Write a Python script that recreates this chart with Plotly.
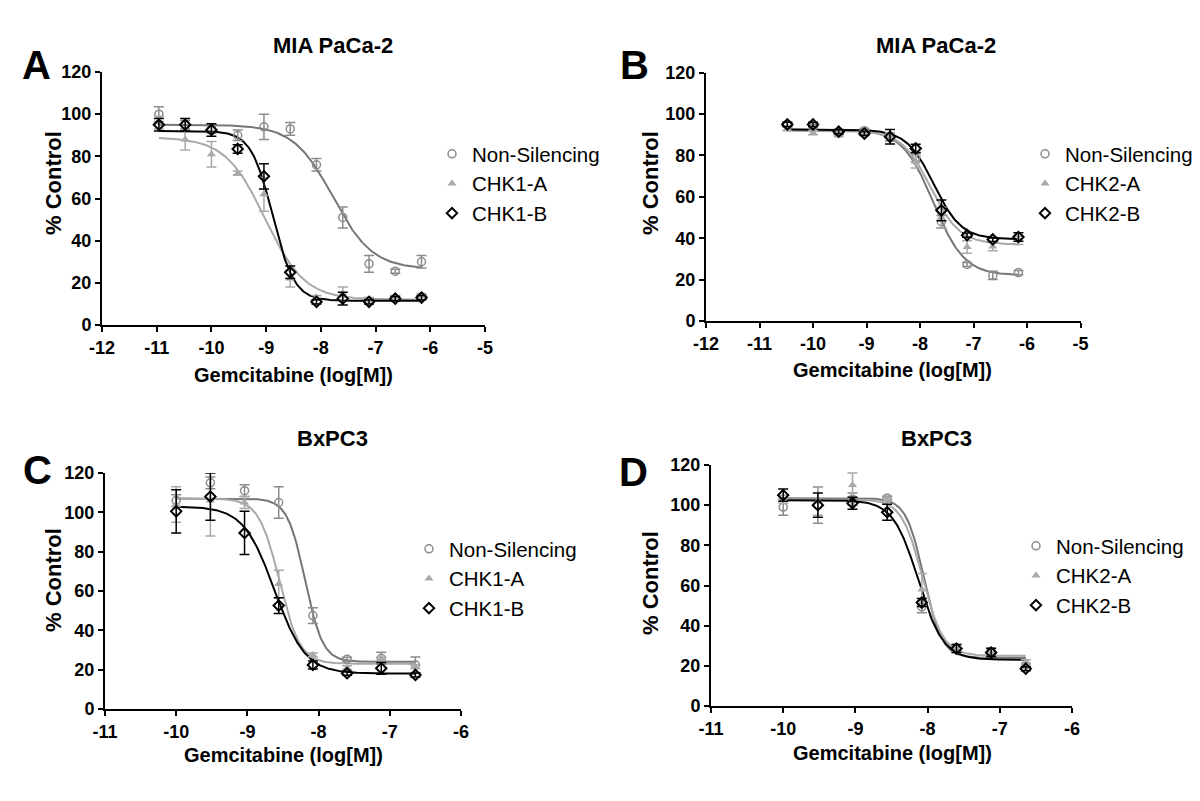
import numpy as np
import plotly.graph_objects as go

# ---------------- data ----------------
series_names_1 = ["Non-Silencing", "CHK1-A", "CHK1-B"]
series_names_2 = ["Non-Silencing", "CHK2-A", "CHK2-B"]

# tick values / labels
x_ticks_top = [-12, -11, -10, -9, -8, -7, -6, -5]
x_ticks_bottom = [-11, -10, -9, -8, -7, -6]
y_ticks = [0, 20, 40, 60, 80, 100, 120]

# Panel A: MIA PaCa-2, CHK1
A_x = [-10.96, -10.48, -10.0, -9.52, -9.04, -8.56, -8.08, -7.6, -7.12, -6.64, -6.16]
A_ns = [100, 95, 93, 90, 94, 93, 76, 51, 29, 25.5, 30]
A_ns_err = [3.5, 2, 2, 2.5, 6, 3, 3, 5, 4, 1, 3]
A_a = [96, 88, 81, 72, 62, 22, 13, 15, 12, 13, 14]
A_a_err = [3, 5, 6, 1, 8, 4, 1, 3, 1, 1, 1]
A_b = [95, 95, 92.5, 83.5, 70.5, 25, 11, 12.5, 11, 12.5, 13]
A_b_err = [3, 3, 3, 2, 6, 3, 1, 3, 1, 1, 1]
# fit params: top, bottom, logIC50, hill
A_fit_ns = [95, 26.5, -7.78, 1.2]
A_fit_a = [89, 12, -9.02, 1.2]
A_fit_b = [92, 11.5, -8.88, 2.2]

# Panel B: MIA PaCa-2, CHK2
B_x = [-10.48, -10.0, -9.52, -9.04, -8.56, -8.08, -7.6, -7.12, -6.64, -6.16]
B_ns = [95, 94, 91, 92, 89, 79, 48, 27.3, 22, 23.4]
B_ns_err = [1, 1, 1, 1, 2, 2, 3, 1, 2, 1]
B_a = [93, 91, 90, 91, 89, 77, 50, 35.8, 36, 39]
B_a_err = [1, 1, 1, 1, 2, 3, 5, 3, 2, 2]
B_b = [95, 95, 91.5, 90.6, 89, 83.4, 53.5, 41.5, 39.4, 40.6]
B_b_err = [1, 1, 1, 1, 3.5, 2, 5, 1, 1, 2]
B_fit_ns = [92.5, 22, -7.75, 1.5]
B_fit_a = [92, 37, -7.8, 1.6]
B_fit_b = [92.5, 39.5, -7.74, 1.7]

# Panel C: BxPC3, CHK1
C_x = [-10.0, -9.52, -9.04, -8.56, -8.08, -7.6, -7.12, -6.64]
C_ns = [106, 115, 111, 105, 47.5, 25.3, 25.8, 22.4]
C_ns_err = [3, 3, 3, 8, 4, 1, 3, 4]
C_a = [104, 106, 105, 63.5, 27.5, 21, 25.5, 21.5]
C_a_err = [9, 18, 3, 7, 1, 1, 1, 1]
C_b = [100.5, 108, 89.5, 52.6, 22.4, 18.2, 20.7, 17.3]
C_b_err = [11, 12, 11, 4, 2, 1, 3, 1]
C_fit_ns = [107, 24, -8.19, 3.5]
C_fit_a = [107, 23, -8.55, 3.0]
C_fit_b = [103, 18, -8.62, 2.0]

# Panel D: BxPC3, CHK2
D_x = [-10.0, -9.52, -9.04, -8.56, -8.08, -7.6, -7.12, -6.64]
D_ns = [99, 100, 103, 103.5, 49.4, 28.6, 27, 20.3]
D_ns_err = [4, 9, 3, 1, 3, 2, 2, 1]
D_a = [103, 102, 110, 103, 58, 28, 26, 22]
D_a_err = [2, 7, 6, 1, 8, 1, 1, 1]
D_b = [105, 100, 101, 96.5, 51.5, 28.6, 26.6, 18.6]
D_b_err = [3, 6, 3, 4, 2, 2, 2, 1]
D_fit_ns = [103.5, 24, -8.05, 3.5]
D_fit_a = [103, 25, -8.07, 3.0]
D_fit_b = [102.5, 23, -8.13, 2.5]

panel_titles = ["MIA PaCa-2", "MIA PaCa-2", "BxPC3", "BxPC3"]
panel_letters = ["A", "B", "C", "D"]
x_title = "Gemcitabine (log[M])"
y_title = "% Control"

# ---------------- styling / layout ----------------
W, H = 1200, 801
FONT = "Arial, Liberation Sans, Helvetica, sans-serif"
col_ns_pt = "#8c8c8c"
col_ns_line = "#767676"
col_a = "#a9a9a9"
col_b = "#000000"


def px_x(p):
    return p / W


def px_y(p):
    return 1 - p / H


def lab(v):
    return "-%d" % abs(v) if v < 0 else "%d" % v


panels = [
    dict(x=A_x, ys=[A_ns, A_a, A_b], errs=[A_ns_err, A_a_err, A_b_err],
         fits=[A_fit_ns, A_fit_a, A_fit_b], names=series_names_1, xticks=x_ticks_top,
         xrange=[-12, -5], xdom=[102, 485], ydom=[325, 72],
         letter_pos=(36, 65), title_pos=(333, 45), ytitle_pos=(53, 183), xtitle_pos=(293, 375),
         legend_pos=(432, 134)),
    dict(x=B_x, ys=[B_ns, B_a, B_b], errs=[B_ns_err, B_a_err, B_b_err],
         fits=[B_fit_ns, B_fit_a, B_fit_b], names=series_names_2, xticks=x_ticks_top,
         xrange=[-12, -5], xdom=[706, 1080.5], ydom=[321, 72.7],
         letter_pos=(634, 65), title_pos=(936, 45), ytitle_pos=(650, 183), xtitle_pos=(892, 370),
         legend_pos=(1025, 134)),
    dict(x=C_x, ys=[C_ns, C_a, C_b], errs=[C_ns_err, C_a_err, C_b_err],
         fits=[C_fit_ns, C_fit_a, C_fit_b], names=series_names_1, xticks=x_ticks_bottom,
         xrange=[-11, -6], xdom=[105, 461], ydom=[709, 473],
         letter_pos=(37, 470), title_pos=(332, 438), ytitle_pos=(53, 580), xtitle_pos=(283, 755),
         legend_pos=(409, 529)),
    dict(x=D_x, ys=[D_ns, D_a, D_b], errs=[D_ns_err, D_a_err, D_b_err],
         fits=[D_fit_ns, D_fit_a, D_fit_b], names=series_names_2, xticks=x_ticks_bottom,
         xrange=[-11, -6], xdom=[711, 1072], ydom=[706, 465],
         letter_pos=(633, 472), title_pos=(936, 438), ytitle_pos=(650, 583), xtitle_pos=(892, 753),
         legend_pos=(1016, 526)),
]

marker_styles = [
    dict(symbol="circle-open", size=8, color=col_ns_pt, line=dict(width=1.5, color=col_ns_pt)),
    dict(symbol="triangle-up", size=8, color=col_a, line=dict(width=0, color=col_a)),
    dict(symbol="diamond-open", size=8, color=col_b, line=dict(width=2, color=col_b)),
]
line_cols = [col_ns_line, col_a, col_b]
err_cols = [col_ns_pt, col_a, col_b]

fig = go.Figure()
layout = dict(
    width=W, height=H, margin=dict(l=0, r=0, t=0, b=0, autoexpand=False),
    paper_bgcolor="white", plot_bgcolor="white", showlegend=True,
    font=dict(family=FONT, color="black"),
)
annotations = []


def logistic(xs, p):
    top, bottom, lec, hill = p
    return bottom + (top - bottom) / (1 + 10 ** ((xs - lec) * hill))


def ann(text, pos, size, angle=0):
    return dict(text="<b>%s</b>" % text, x=px_x(pos[0]), y=px_y(pos[1]),
                xref="paper", yref="paper", showarrow=False, textangle=angle,
                xanchor="center", yanchor="middle",
                font=dict(family=FONT, size=size, color="black"))


for i, P in enumerate(panels):
    k = "" if i == 0 else str(i + 1)
    xa, ya = "x" + k, "y" + k
    leg = "legend" + k
    xs = np.array(P["x"], dtype=float)
    xc = np.linspace(xs.min(), xs.max(), 300)
    # curves first (behind points)
    for j in range(3):
        fig.add_trace(go.Scatter(
            x=xc, y=logistic(xc, P["fits"][j]), mode="lines",
            line=dict(color=line_cols[j], width=2), xaxis=xa, yaxis=ya,
            showlegend=False, hoverinfo="skip"))
    for j in [0, 1, 2]:
        fig.add_trace(go.Scatter(
            x=P["x"], y=P["ys"][j], mode="markers", name=P["names"][j],
            marker=marker_styles[j], xaxis=xa, yaxis=ya, legend=leg,
            error_y=dict(type="data", array=P["errs"][j], visible=True,
                         color=err_cols[j], thickness=1.5, width=5),
            cliponaxis=False))
    axis_common = dict(showline=True, linewidth=2, linecolor="black", ticks="outside",
                       ticklen=5, tickwidth=2, tickcolor="black", showgrid=False,
                       zeroline=False, automargin=False,
                       tickfont=dict(family=FONT, size=18, color="black", weight="bold"))
    layout["xaxis" + k] = dict(axis_common, range=P["xrange"],
                               tickmode="array", tickvals=P["xticks"],
                               ticktext=[lab(v) for v in P["xticks"]],
                               domain=[px_x(P["xdom"][0]), px_x(P["xdom"][1])],
                               anchor=ya, fixedrange=True)
    layout["yaxis" + k] = dict(axis_common, range=[0, 120],
                               tickmode="array", tickvals=y_ticks,
                               ticktext=[lab(v) for v in y_ticks],
                               domain=[px_y(P["ydom"][0]), px_y(P["ydom"][1])],
                               anchor=xa, fixedrange=True)
    layout[leg] = dict(x=px_x(P["legend_pos"][0]), y=px_y(P["legend_pos"][1]),
                       xanchor="left", yanchor="top", bgcolor="rgba(0,0,0,0)",
                       font=dict(family=FONT, size=20.5, color="black"),
                       itemsizing="trace")
    annotations.append(ann(panel_letters[i], P["letter_pos"], 40))
    annotations.append(ann(panel_titles[i], P["title_pos"], 22))
    annotations.append(ann(y_title, P["ytitle_pos"], 22, -90))
    annotations.append(ann(x_title, P["xtitle_pos"], 20))

layout["annotations"] = annotations
fig.update_layout(**layout)
fig.write_html("out.html", config={"displayModeBar": False},
               post_script="document.body.style.margin='0px';")
